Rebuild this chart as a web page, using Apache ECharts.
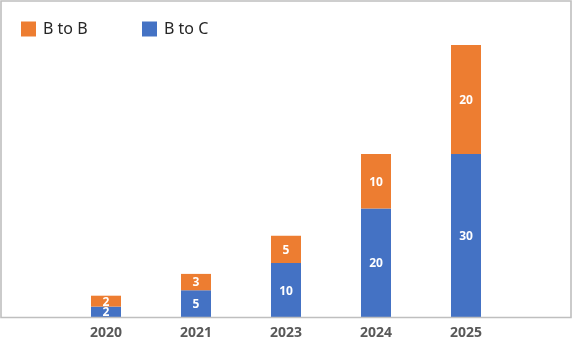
<!DOCTYPE html>
<html>
<head>
<meta charset="utf-8">
<script src="https://cdn.jsdelivr.net/npm/echarts@6/dist/echarts.min.js"></script>
<style>
  html, body { margin: 0; padding: 0; background: #ffffff; }
  #chart { width: 572px; height: 339px; }
</style>
</head>
<body>
<div id="chart"></div>
<script>
// Yearly volumes, stacked by channel
const years = ['2020', '2021', '2023', '2024', '2025'];
const bToC = [2, 5, 10, 20, 30];
const bToB = [2, 3, 5, 10, 20];

const FONT = '"Noto Sans", "Open Sans", sans-serif';
const BLUE = '#4472C4';
const ORANGE = '#ED7D31';

const chart = echarts.init(document.getElementById('chart'), null, { renderer: 'canvas' });

const barLabel = {
  show: true,
  position: 'inside',
  offset: [0, 1],
  color: '#ffffff',
  fontFamily: FONT,
  fontWeight: 'bold',
  fontSize: 12
};

const legendText = { color: '#262626', fontFamily: FONT, fontSize: 16, padding: [2, 0, 0, 2] };

chart.setOption({
  animation: false,
  backgroundColor: '#ffffff',
  legend: [
    {
      data: ['B to B'], left: 21, top: 21, itemWidth: 15, itemHeight: 15,
      icon: 'rect', padding: 0, textStyle: legendText
    },
    {
      data: ['B to C'], left: 142, top: 21, itemWidth: 15, itemHeight: 15,
      icon: 'rect', padding: 0, textStyle: legendText
    }
  ],
  grid: {
    left: 61, right: 61, top: 45, bottom: 21.5,
    containLabel: false,
    outerBoundsMode: 'none'
  },
  xAxis: {
    type: 'category',
    data: years,
    axisLine: { show: false },
    axisTick: { show: false },
    axisLabel: {
      color: '#595959', fontFamily: FONT, fontWeight: 'bold', fontSize: 14, margin: 9
    }
  },
  yAxis: {
    type: 'value',
    min: 0,
    max: 50,
    show: false,
    splitLine: { show: false }
  },
  graphic: [
    {
      type: 'rect',
      shape: { x: 1, y: 1, width: 570, height: 316.5 },
      style: { fill: 'none', stroke: '#BFBFBF', lineWidth: 1.6 },
      silent: true,
      z: 10
    }
  ],
  series: [
    {
      name: 'B to C',
      type: 'bar',
      stack: 'total',
      data: bToC,
      barWidth: 30,
      itemStyle: { color: BLUE },
      label: barLabel
    },
    {
      name: 'B to B',
      type: 'bar',
      stack: 'total',
      data: bToB,
      barWidth: 30,
      itemStyle: { color: ORANGE },
      label: barLabel
    }
  ]
});
</script>
</body>
</html>
